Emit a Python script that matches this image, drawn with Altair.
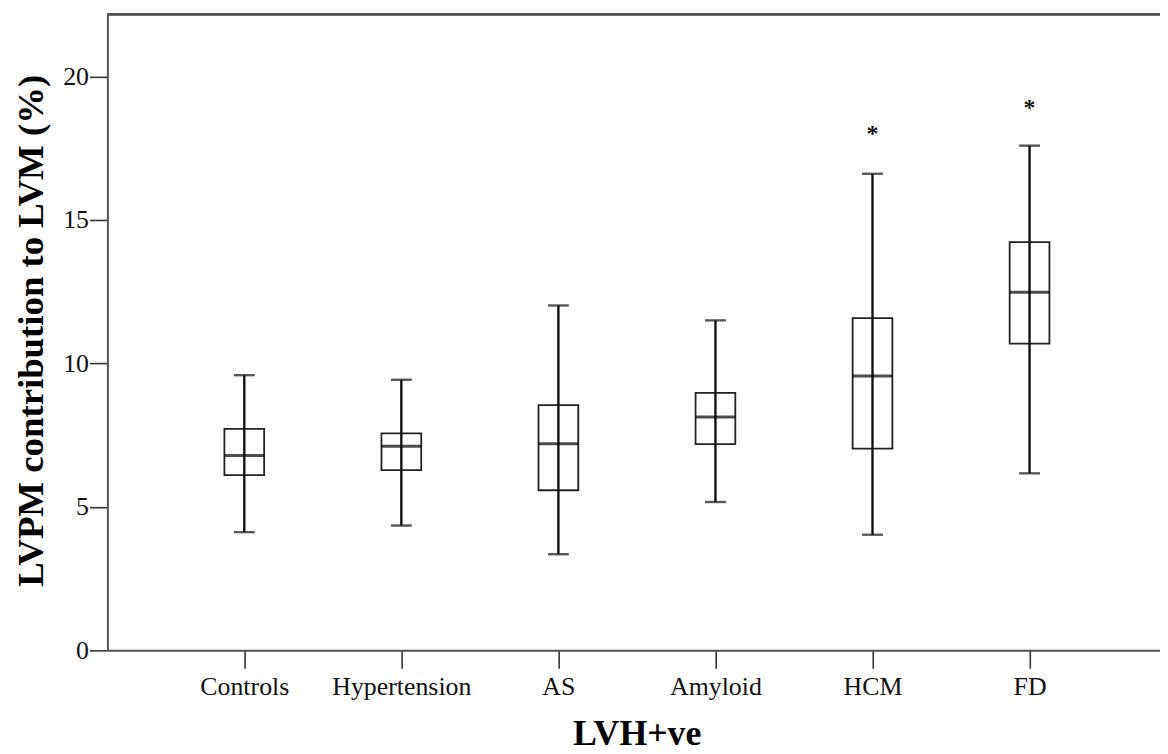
import altair as alt
import pandas as pd

categories = ["Controls", "Hypertension", "AS", "Amyloid", "HCM", "FD"]
lower = [4.12, 4.35, 3.35, 5.17, 4.03, 6.17]
q1 = [6.11, 6.28, 5.58, 7.19, 7.03, 10.69]
median = [6.79, 7.11, 7.20, 8.13, 9.56, 12.48]
q3 = [7.72, 7.56, 8.55, 8.97, 11.58, 14.23]
upper = [9.59, 9.43, 12.02, 11.50, 16.61, 17.59]
star_groups = ["HCM", "FD"]
star_values = [18.02, 18.94]
y_ticks = [0, 5, 10, 15, 20]

df = pd.DataFrame({
    "idx": list(range(len(categories))),
    "cat": categories,
    "lower": lower, "q1": q1, "median": median, "q3": q3, "upper": upper,
})
stars = pd.DataFrame({
    "idx": [categories.index(g) for g in star_groups],
    "val": star_values,
    "label": ["*"] * len(star_groups),
})

FONT = "Liberation Serif"
W, H = 1059, 640
label_expr = "[" + ",".join("'%s'" % c for c in categories) + "][datum.value]"

xscale = alt.Scale(domain=[-0.840, 5.799], nice=False, zero=False)
yscale = alt.Scale(domain=[0, 22.17], nice=False, zero=True)

xenc = alt.X("idx:Q", scale=xscale, title="LVH+ve",
             axis=alt.Axis(values=list(range(len(categories))), labelExpr=label_expr,
                           grid=False, tickSize=18, tickWidth=1.6, tickColor="#333",
                           domainColor="#555", domainWidth=2,
                           labelFont=FONT, labelFontSize=26, labelColor="#111",
                           labelPadding=5, labelFlush=False, labelOverlap=False,
                           titleFont=FONT, titleFontSize=36, titleFontWeight="bold",
                           titleColor="#000", titleBaseline="alphabetic",
                           titleY=95, titleX=W / 2 + 3))
yaxis = alt.Axis(values=y_ticks, grid=False, tickSize=18, tickWidth=1.6, tickColor="#333",
                 domainColor="#555", domainWidth=2,
                 labelFont=FONT, labelFontSize=26, labelColor="#111", labelPadding=1,
                 titleFont=FONT, titleFontSize=37, titleFontWeight="bold", titleColor="#000",
                 titleAngle=-90, titleBaseline="alphabetic", titleAlign="center",
                 titleX=-65, titleY=318)

base = alt.Chart(df)

box = base.mark_bar(size=40, fill="white", stroke="#222", strokeWidth=1.8).encode(
    x=xenc,
    y=alt.Y("q1:Q", scale=yscale, axis=yaxis, title="LVPM contribution to LVM (%)"),
    y2="q3:Q",
)
whisker = base.mark_rule(color="#111", strokeWidth=2.4).encode(
    x="idx:Q", y="lower:Q", y2="upper:Q")
cap_low = base.mark_tick(orient="horizontal", size=21, thickness=2.4, color="#111").encode(
    x="idx:Q", y="lower:Q")
cap_up = base.mark_tick(orient="horizontal", size=21, thickness=2.4, color="#111").encode(
    x="idx:Q", y="upper:Q")
med = base.mark_tick(orient="horizontal", size=40, thickness=3, color="#000").encode(
    x="idx:Q", y="median:Q")
star = alt.Chart(stars).mark_text(font=FONT, fontSize=24, fontWeight="bold", color="#111",
                                  baseline="middle", dy=1).encode(
    x="idx:Q", y="val:Q", text="label:N")
top = alt.Chart(df).mark_rule(color="#555", strokeWidth=2).encode(
    x=alt.value(0), x2=alt.value(W + 10), y=alt.value(0))

chart = alt.layer(box, whisker, cap_low, cap_up, med, star, top).properties(
    width=W, height=H,
    autosize=alt.AutoSizeParams(type="none"),
    padding={"left": 100, "top": 4, "right": 0, "bottom": 100},
).configure_view(stroke=None).configure(background="white")

chart.save("out.html", embed_options={"renderer": "svg", "actions": False})
